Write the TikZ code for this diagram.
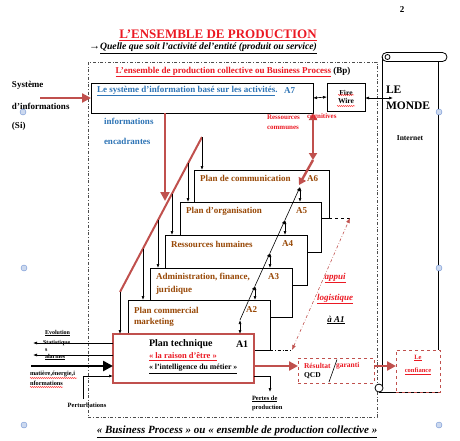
\documentclass[tikz,border=0pt]{standalone}
\usepackage{fontspec}
\setmainfont{Liberation Serif}
\usetikzlibrary{arrows.meta,calc,decorations.pathmorphing}
\definecolor{dred}{RGB}{192,80,77}
\definecolor{bred}{RGB}{235,25,35}
\definecolor{blu}{RGB}{46,116,181}
\definecolor{brn}{RGB}{152,72,6}
\definecolor{hdl}{RGB}{110,145,210}
\newcommand\myfs[1]{\fontsize{#1}{#1}\selectfont}
\begin{document}
\begin{tikzpicture}[x=1pt,y=-1pt,
  every node/.style={inner sep=0pt,outer sep=0pt},
  lbl/.style={anchor=west,font=\bfseries\myfs{9}},
  brtxt/.style={lbl,text=brn},
  bltxt/.style={lbl,text=blu},
  small/.style={anchor=west,font=\bfseries\myfs{6.3}},
  card/.style={draw,line width=0.8pt,fill=white},
  blk/.style={-{Latex[length=4pt,width=3pt]},semithick},
  dbl/.style={{Latex[length=4pt,width=3pt]}-{Latex[length=4pt,width=3pt]},semithick},
  redfat/.style={draw=dred,line width=2.4pt},
  redtip/.style={-{Triangle[length=9pt,width=9pt]}},
  wav/.style={draw=red,line width=0.4pt,decorate,decoration={snake,amplitude=0.5pt,segment length=2pt}},
  handle/.style={circle,draw=hdl,fill=hdl!35,minimum size=6pt}
]
\useasboundingbox (0,0) rectangle (460,440);

% page number and titles
\node[font=\bfseries\myfs{9}] (pg) at (402,10) {2};
\node[font=\bfseries\myfs{13},text=bred] (title) at (218,35) {\underline{L’ENSEMBLE DE PRODUCTION}};
\node[font=\bfseries\itshape\myfs{9.7}] (sub) at (203,48) {{\myfs{11}→}\underline{Quelle que soit l’activité del’entité (produit ou service)}};

% outer dash-dot frame
\draw[dash dot,semithick,black!70] (88,62) rectangle (377,417);
\node[font=\bfseries\myfs{9}] (bp) at (233,72) {\textcolor{bred}{\underline{L’ensemble de production collective ou Business Process}} (Bp)};

% scroll "LE MONDE"
\draw[line width=0.8pt,rounded corners=4.5pt,fill=white] (382,52.5) rectangle (447,61.5);
\draw[line width=0.8pt] (387.5,57) circle (2.5);
\draw[line width=0.8pt] (382.5,57) -- (382.5,387);
\draw[line width=0.8pt] (438,61.5) -- (438,392);
\draw[line width=0.8pt] (379,392) -- (438,392);
\draw[line width=0.8pt,fill=white] (379,388) circle (4);
\node[font=\bfseries\myfs{11.5},anchor=west] (le) at (386,90) {LE};
\node[font=\bfseries\myfs{11.5},anchor=west] (monde) at (386,106) {MONDE};
\node[font=\bfseries\myfs{7.5}] (internet) at (410,138) {Internet};

% A7 box and Fire Wire
\node[draw,line width=0.8pt,minimum width=222,minimum height=30] (a7) at (202,98) {};
\node[draw,line width=0.8pt,fill=white,minimum width=38,minimum height=28,align=center,font=\bfseries\myfs{7.5},inner sep=0pt] (fw) at (346,97) {Fire\\[1pt]Wire};
\draw[wav] (338,95) -- (354,95);
\draw[wav] (337,106) -- (355,106);
\draw[dbl] (a7.east) -- (fw.west);
\coordinate (world) at (393,98);
\draw[dbl] (fw.east |- world) -- (world);
\node[bltxt] (a7t) at (97,91) {\underline{Le système d’information basé sur les activités}.};
\node[bltxt] (a7n) at (284,91) {A7};
\node[bltxt] (inf1) at (104,121) {informations};
\node[bltxt] (inf2) at (104,141) {encadrantes};

% Système d'informations
\node[lbl] (si1) at (12,85) {Système};
\node[lbl] (si2) at (12,106) {d’informations};
\node[lbl] (si3) at (12,126) {(Si)};
\coordinate (si) at (40,98);
\draw[redfat,redtip,draw=dred,fill=dred] (si) -- (a7.west);

% stair of cards
\node[card,minimum width=135,minimum height=48] (a6) at (261.5,194) {};
\node[card,minimum width=141,minimum height=50] (a5) at (250.5,227) {};
\node[card,minimum width=142,minimum height=50] (a4) at (236,260) {};
\node[card,minimum width=142,minimum height=49] (a3) at (221,292.5) {};
\node[card,minimum width=142,minimum height=50] (a2) at (199,325) {};
\node[draw=dred,line width=2.6pt,fill=white,minimum width=141,minimum height=49] (a1) at (183.5,358.5) {};

\node[brtxt] at (200,178) {Plan de communication};
\node[brtxt] at (307,179) {A6};
\node[brtxt] at (186,211) {Plan d’organisation};
\node[brtxt] at (296,211) {A5};
\node[brtxt] at (171,244) {Ressources humaines};
\node[brtxt] at (282,244) {A4};
\node[brtxt] at (156,277) {Administration, finance,};
\node[brtxt] at (156,290) {juridique};
\node[brtxt] at (268,277) {A3};
\node[brtxt] at (134,310) {Plan commercial};
\node[brtxt] at (134,322) {marketing};
\node[brtxt] at (246,310) {A2};

\node[lbl,font=\bfseries\myfs{10}] (pt) at (149,344) {Plan technique};
\node[lbl,font=\bfseries\myfs{10}] (a1n) at (236,344) {A1};
\node[lbl,font=\bfseries\myfs{8.5},text=bred] (rde) at (149,357) {\underline{« la raison d’être »}};
\node[lbl,font=\bfseries\myfs{7.8}] (idm) at (149,369) {\underline{« l’intelligence du métier »}};

% information flow (red)
\coordinate (s6) at (202,137);
\coordinate (s1) at (120,292);
\draw[dred,line width=2pt] (s6) -- (s1);
\draw[redfat,redtip,fill=dred] ($(a7.south west)+(74,0)$) -- (165,201);
\draw[blk] (s6) -- (s6 |- a6.north);
\draw[blk] ($(s6)!0.1707!(s1)$) coordinate (p5) -- (p5 |- a5.north);
\draw[blk] ($(s6)!0.3659!(s1)$) coordinate (p4) -- (p4 |- a4.north);
\draw[blk] ($(s6)!0.5366!(s1)$) coordinate (p3) -- (p3 |- a3.north);
\draw[blk] ($(s6)!0.7195!(s1)$) coordinate (p2) -- (p2 |- a2.north);
\draw[blk] (s1) -- (s1 |- a1.north);

% chain between activities
\coordinate (t6) at (300,187);
\coordinate (t5) at (285,220);
\coordinate (t4) at (270,253);
\coordinate (t3) at (255,286);
\coordinate (t2) at (240,320);
\draw[dbl] (t6) -- (t6 |- a5.north);
\draw[dbl] (t5) -- (t5 |- a4.north);
\draw[dbl] (t4) -- (t4 |- a3.north);
\draw[dbl] (t3) -- (t3 |- a2.north);
\draw[dbl] (t2) -- (t2 |- a1.north);
\draw[blk] (t2) -- (t3);
\draw[blk] (t3) -- (t4);
\draw[blk] (t4) -- (t5);
\draw[blk] (t5) -- (t6);

% shared cognitive resources
\coordinate (c1) at (313,160);
\draw[draw=dred,line width=2.4pt,{Triangle[length=7pt,width=8pt]}-{Triangle[length=7pt,width=8pt]},fill=dred] (a7.south -| c1) -- (c1);
\draw[draw=dred,line width=2.4pt,-{Triangle[length=7pt,width=8pt]},fill=dred] (c1) -- (299,185);
\node[small,font=\bfseries\myfs{7},text=bred] (rc1) at (267,117) {Ressources};
\node[small,font=\bfseries\myfs{7},text=bred] (rc2) at (307,117) {cognitives};
\node[small,font=\bfseries\myfs{7},text=bred] (rc3) at (267,128) {communes};

% logistic support
\draw[semithick,dashed] (a6.south east) -- ++(21,0) coordinate (lg2);
\draw[semithick,dash dot] (a2.south east) -- ++(22,0) coordinate (lg1);
\draw[dred,semithick,dash dot,{Latex[length=5pt,width=4pt]}-{Latex[length=5pt,width=4pt]}] (lg1) -- (lg2);
\node[font=\bfseries\itshape\myfs{9},text=bred] (ap1) at (335,278) {\underline{appui}};
\node[font=\bfseries\itshape\myfs{9},text=bred] (ap2) at (335,299) {\underline{logistique}};
\node[font=\bfseries\itshape\myfs{9}] (ap3) at (336,320) {\underline{à A1}};

% left side of A1
\coordinate (o1) at (33,343);
\coordinate (o2) at (33,355);
\draw[blk] ($(a1.west)+(0,-15.5)$) -- (o1);
\draw[blk] ($(a1.west)+(0,-3.5)$) -- (o2);
\node[small,font=\bfseries\myfs{6}] (ev) at (45,333) {\underline{Evolution}};
\node[small,font=\bfseries\myfs{6}] (st) at (43,343) {Statistique};
\node[small,font=\bfseries\myfs{6}] (st2) at (45,350) {s};
\node[small,font=\bfseries\myfs{6}] (al) at (45,357) {\underline{alarmes}};
\coordinate (in) at (31,366);
\draw[line width=2.6pt,-{Triangle[length=10pt,width=10pt]}] (in) -- ($(a1.west)+(0,7.5)$);
\node[small] (mat1) at (30,374) {matière,énergie,i};
\node[small] (mat2) at (30,383) {nformations};
\draw[wav] (30,378) -- (77,378);
\draw[wav] (30,387) -- (63,387);
\node[small,font=\bfseries\myfs{6.5},anchor=center] (pert) at (87,405) {Perturbations};
\draw[blk] (83,399) |- ($(a1.west)+(0,17.5)$);

% right side of A1
\node[draw=dred,dashed,semithick,fill=white,minimum width=76,minimum height=25] (res) at (336,370.5) {};
\node[small,font=\bfseries\myfs{7.5},text=bred] (res1) at (304,366) {Résultat};
\node[small,font=\bfseries\myfs{7.5},text=bred] (res2) at (336,366) {garanti};
\node[small,font=\bfseries\myfs{7.5}] (qcd) at (304,376) {QCD};
\draw[semithick] (337,359.5) -- (329,382);
\draw[redfat,-{Triangle[length=9pt,width=9pt]},fill=dred] ($(a1.east)+(0,7.5)$) -- ($(res.west)+(0,-4.5)$);
\draw[blk] ($(a1.east)+(0,17.5)$) -| (270,392);
\node[small,font=\bfseries\myfs{6.5}] (pd1) at (252,399) {\underline{Pertes de}};
\node[small,font=\bfseries\myfs{6.5}] (pd2) at (252,408) {production};
\node[draw=dred,dashed,semithick,fill=white,minimum width=44,minimum height=42] (conf) at (418,371) {};
\node[font=\bfseries\myfs{6.5},text=bred] (cf1) at (418,358) {\underline{Le}};
\node[font=\bfseries\myfs{6.5},text=bred] (cf2) at (418,371) {\underline{confiance}};
\draw[redfat,-{Triangle[length=9pt,width=9pt]},fill=dred] ($(res.east)+(0,-4.5)$) -- ($(conf.west)+(0,-5)$);

% bottom caption
\node[font=\bfseries\itshape\myfs{11}] (cap) at (237,432) {\underline{« Business Process » ou « ensemble de production collective »}};

% editing handles
\node[handle] at (23,112) {};
\node[handle] at (24,268) {};
\node[handle] at (24,425) {};
\node[handle] at (439,112) {};
\node[handle] at (439,268) {};
\node[handle] at (439,425) {};
\end{tikzpicture}
\end{document}
